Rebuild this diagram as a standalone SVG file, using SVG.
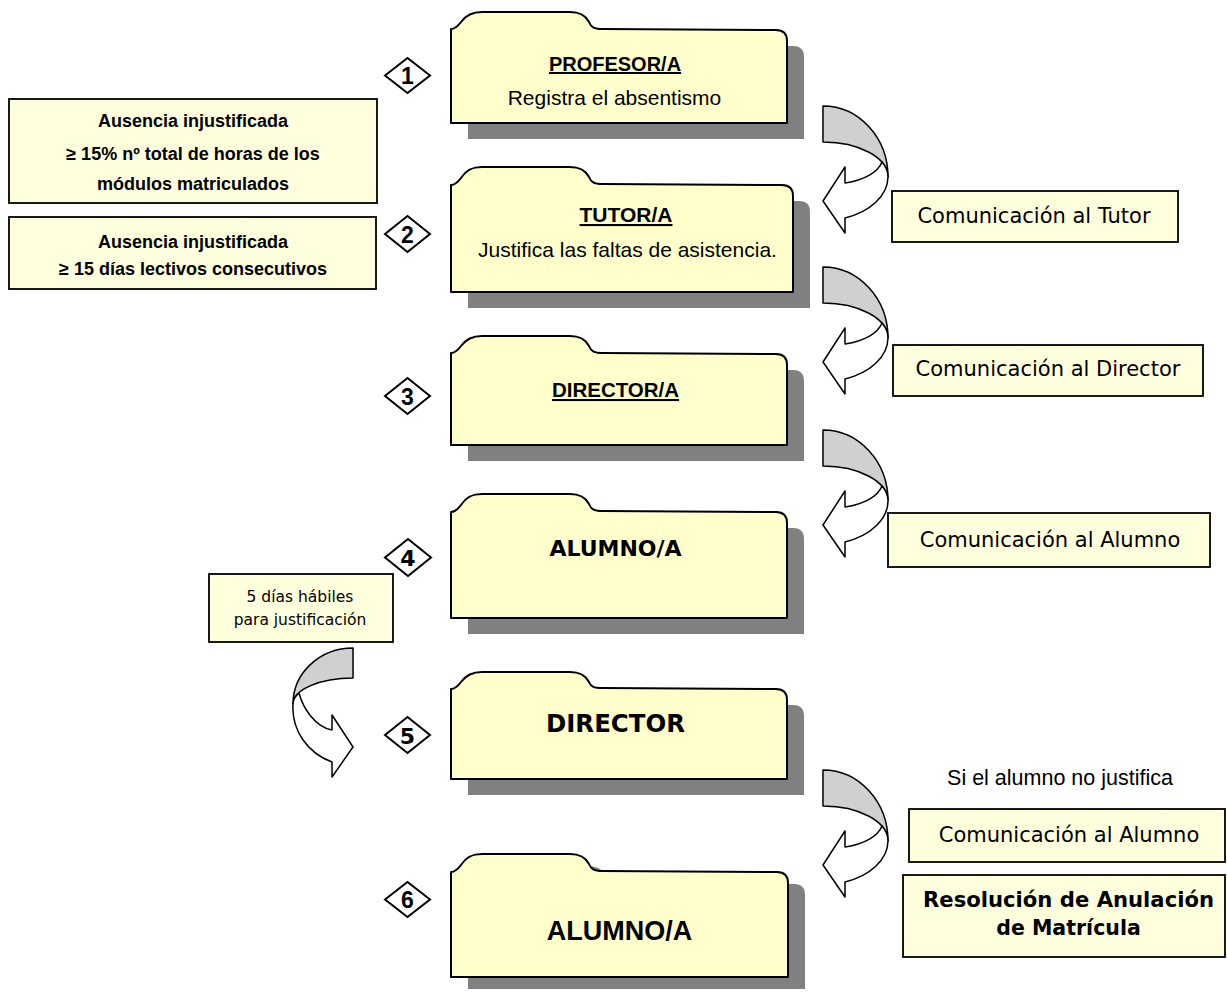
<svg xmlns="http://www.w3.org/2000/svg" width="1227" height="994" viewBox="0 0 1227 994">
<defs>
<style>
.fold{fill:#FFFFCC;stroke:#000;stroke-width:2;stroke-linejoin:round}
.shad{fill:#808080}
.box{fill:#FFFFDD;stroke:#000;stroke-width:1.8}
.dia{fill:#fff;stroke:#000;stroke-width:2}
.gray{fill:#D0D0D0;stroke:#000;stroke-width:1.5;stroke-linejoin:round}
.wht{fill:#fff;stroke:#000;stroke-width:1.5;stroke-linejoin:round}
.cal{font-family:"Liberation Sans",Arial,sans-serif;fill:#000;text-anchor:middle}
.ver{font-family:"DejaVu Sans",Verdana,sans-serif;fill:#000;text-anchor:middle}
.b{font-weight:bold}
.u{text-decoration:underline}
</style>
<g id="arrR">
<path class="gray" d="M0,0 A65,71 0 0 1 65,71 A65,35 0 0 0 0,36 Z"/>
<path class="wht" d="M22,77 C42,74 55,66 59,56 A65,35 0 0 1 65,71 A65,44 0 0 1 22,112 L22,127 L0,95 L22,61 Z"/>
</g>
</defs>
<rect width="1227" height="994" fill="#fff"/>

<g id="connectors">
<use href="#arrR" transform="translate(823,106)"/>
<use href="#arrR" transform="translate(823,267)"/>
<use href="#arrR" transform="translate(823,430)"/>
<use href="#arrR" transform="translate(823,770)"/>
<g transform="translate(353,648) scale(-1,1)">
<path class="gray" d="M0,0 A60,56 0 0 1 60,56 A60,26 0 0 0 0,30 Z"/>
<path class="wht" d="M21,82 C38,79 50,60 54,45 A60,26 0 0 1 60,56 A60,58 0 0 1 21,114 L21,129 L0,99 L21,67 Z"/>
</g>
</g>

<g id="node1">
<path class="shad" transform="translate(17,16)" d="M451,29 C455,29 458,26 461,22 C466,15 472,12 482,12 L570,12 C583,12 587,18 589,22 C591,27 594,29 602,29 L776,30 C784,30 787,34 787,41 L787,123 L451,123 Z"/>
<path class="fold" d="M451,29 C455,29 458,26 461,22 C466,15 472,12 482,12 L570,12 C583,12 587,18 589,22 C591,27 594,29 602,29 L776,30 C784,30 787,34 787,41 L787,123 L451,123 Z"/>
<text class="cal b u" x="615" y="71" font-size="20">PROFESOR/A</text>
<text class="cal" x="614.5" y="105" font-size="21">Registra el absentismo</text>
</g>

<g id="node2">
<path class="shad" transform="translate(17,16)" d="M451,185 C455,185 458,182 461,178 C466,170 472,167 482,167 L570,167 C583,167 587,173 589,177 C591,182 594,184 602,184 L782,185 C790,185 793,189 793,196 L793,292 L451,292 Z"/>
<path class="fold" d="M451,185 C455,185 458,182 461,178 C466,170 472,167 482,167 L570,167 C583,167 587,173 589,177 C591,182 594,184 602,184 L782,185 C790,185 793,189 793,196 L793,292 L451,292 Z"/>
<text class="cal b u" x="626" y="222" font-size="21">TUTOR/A</text>
<text class="cal" x="627.5" y="257" font-size="21">Justifica las faltas de asistencia.</text>
</g>

<g id="node3">
<path class="shad" transform="translate(17,16)" d="M451,353 C455,353 458,350 461,346 C466,339 472,336 482,336 L570,336 C583,336 587,342 589,346 C591,351 594,353 602,353 L776,354 C784,354 787,358 787,365 L787,445 L451,445 Z"/>
<path class="fold" d="M451,353 C455,353 458,350 461,346 C466,339 472,336 482,336 L570,336 C583,336 587,342 589,346 C591,351 594,353 602,353 L776,354 C784,354 787,358 787,365 L787,445 L451,445 Z"/>
<text class="cal b u" x="615.5" y="397" font-size="20.5">DIRECTOR/A</text>
</g>

<g id="node4">
<path class="shad" transform="translate(17,16)" d="M451,512 C455,512 458,509 461,505 C466,497 472,494 482,494 L570,494 C583,494 587,500 589,504 C591,509 594,511 602,511 L776,512 C784,512 787,516 787,523 L787,618 L451,618 Z"/>
<path class="fold" d="M451,512 C455,512 458,509 461,505 C466,497 472,494 482,494 L570,494 C583,494 587,500 589,504 C591,509 594,511 602,511 L776,512 C784,512 787,516 787,523 L787,618 L451,618 Z"/>
<text class="ver b" x="615.5" y="556" font-size="22">ALUMNO/A</text>
</g>

<g id="node5">
<path class="shad" transform="translate(17,16)" d="M451,689 C455,689 458,686 461,682 C466,675 472,672 482,672 L570,672 C583,672 587,678 589,682 C591,687 594,688 602,688 L776,689 C784,689 787,693 787,700 L787,779 L451,779 Z"/>
<path class="fold" d="M451,689 C455,689 458,686 461,682 C466,675 472,672 482,672 L570,672 C583,672 587,678 589,682 C591,687 594,688 602,688 L776,689 C784,689 787,693 787,700 L787,779 L451,779 Z"/>
<text class="ver b" x="615.5" y="732" font-size="25" textLength="139" lengthAdjust="spacingAndGlyphs">DIRECTOR</text>
</g>

<g id="node6">
<path class="shad" transform="translate(17,12)" d="M451,872 C455,872 458,869 461,865 C466,857 472,854 482,854 L570,854 C583,854 587,860 589,864 C591,869 594,871 602,871 L777,872 C785,872 788,876 788,883 L788,977 L451,977 Z"/>
<path class="fold" d="M451,872 C455,872 458,869 461,865 C466,857 472,854 482,854 L570,854 C583,854 587,860 589,864 C591,869 594,871 602,871 L777,872 C785,872 788,876 788,883 L788,977 L451,977 Z"/>
<text class="cal b" x="619.5" y="940" font-size="27">ALUMNO/A</text>
</g>

<g id="d1"><polygon class="dia" points="385,75.5 407.5,58 430,75.5 407.5,93"/><text class="cal b" x="407.5" y="84" font-size="23">1</text></g>
<g id="d2"><polygon class="dia" points="385,234 407.5,216 430,234 407.5,252"/><text class="cal b" x="407.5" y="242.5" font-size="23">2</text></g>
<g id="d3"><polygon class="dia" points="385,396 407.5,378 430,396 407.5,414"/><text class="cal b" x="407.5" y="404.5" font-size="23">3</text></g>
<g id="d4"><polygon class="dia" points="385,557.5 408,539 431,557.5 408,576"/><text class="ver b" x="408" y="566" font-size="22">4</text></g>
<g id="d5"><polygon class="dia" points="385,735 407.5,717 430,735 407.5,753"/><text class="ver b" x="407.5" y="743.5" font-size="22">5</text></g>
<g id="d6"><polygon class="dia" points="385,899.5 407.5,882 430,899.5 407.5,917"/><text class="cal b" x="407.5" y="908" font-size="23">6</text></g>

<g id="boxA">
<rect class="box" x="9" y="99" width="368" height="104"/>
<text class="cal b" x="193" y="127" font-size="18">Ausencia injustificada</text>
<text class="cal b" x="193" y="160" font-size="18">≥ 15% nº total de horas de los</text>
<text class="cal b" x="193" y="190" font-size="18">módulos matriculados</text>
</g>
<g id="boxB">
<rect class="box" x="9" y="217" width="367" height="72"/>
<text class="cal b" x="193" y="248" font-size="18">Ausencia injustificada</text>
<text class="cal b" x="193" y="275" font-size="18">≥ 15 días lectivos consecutivos</text>
</g>
<g id="box5dias">
<rect class="box" x="209" y="574" width="184" height="68"/>
<text class="ver" x="300" y="602" font-size="15.5">5 días hábiles</text>
<text class="ver" x="300" y="625" font-size="15.5">para justificación</text>
</g>

<g id="comTutor">
<rect class="box" x="892" y="191" width="286" height="51"/>
<text class="ver" x="1034" y="223" font-size="21">Comunicación al Tutor</text>
</g>
<g id="comDirector">
<rect class="box" x="893" y="345" width="310" height="51"/>
<text class="ver" x="1048" y="376" font-size="21">Comunicación al Director</text>
</g>
<g id="comAlumno1">
<rect class="box" x="888" y="513" width="322" height="54"/>
<text class="ver" x="1050" y="547" font-size="21">Comunicación al Alumno</text>
</g>
<g id="siAlumno">
<text class="cal" x="1060" y="785" font-size="21.5">Si el alumno no justifica</text>
</g>
<g id="comAlumno2">
<rect class="box" x="909" y="809" width="316" height="53"/>
<text class="ver" x="1069" y="842" font-size="21">Comunicación al Alumno</text>
</g>
<g id="resolucion">
<rect class="box" x="903" y="875" width="322" height="82"/>
<text class="ver b" x="1068.5" y="907" font-size="20.5" textLength="291" lengthAdjust="spacingAndGlyphs">Resolución de Anulación</text>
<text class="ver b" x="1068.5" y="935" font-size="20.5">de Matrícula</text>
</g>
</svg>
